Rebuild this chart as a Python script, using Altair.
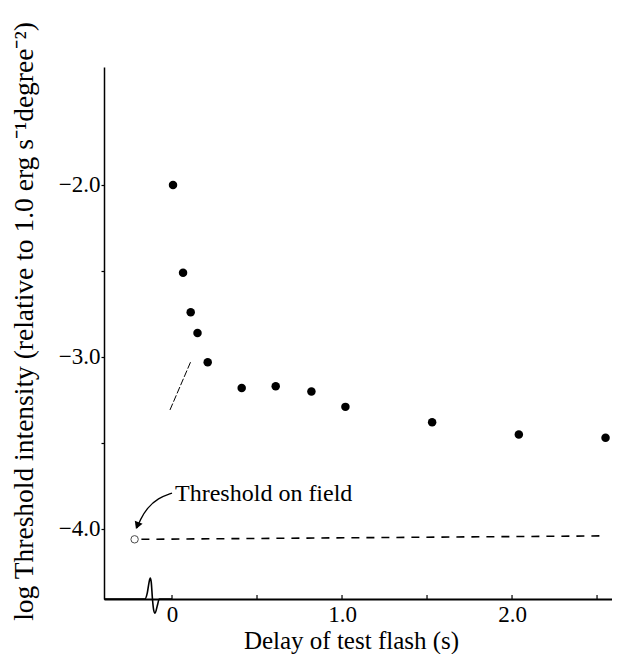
import altair as alt
import pandas as pd

# Measured thresholds (filled dots)
delay_s = [0.006, 0.065, 0.11, 0.15, 0.21, 0.41, 0.61, 0.82, 1.02, 1.53, 2.04, 2.55]
log_thresh = [-2.00, -2.51, -2.74, -2.86, -3.03, -3.18, -3.17, -3.20, -3.29, -3.38, -3.45, -3.47]

# Threshold on field (open circle + dashed line)
field_x = [-0.22]
field_y = [-4.06]
dash_x = [-0.18, 2.55]
dash_y = [-4.06, -4.04]

# Flash stimulus trace drawn along the time axis
flash_x = [-0.40, -0.16, -0.145, -0.135, -0.128, -0.122, -0.115, -0.108, -0.10, -0.085, -0.075, 0.0]
flash_y = [-4.407, -4.407, -4.37, -4.31, -4.285, -4.31, -4.407, -4.47, -4.49, -4.44, -4.407, -4.407]

# Annotation
label_text = ["Threshold on field"]
label_x = [0.018]
label_y = [-3.835]
arrow_x = [0.0, -0.082, -0.147, -0.188, -0.206]
arrow_y = [-3.791, -3.820, -3.878, -3.948, -3.994]
head_x = [-0.204]
head_y = [-3.98]

# Stray stroke visible in the scan
stray_x = [-0.012, 0.112]
stray_y = [-3.308, -3.023]

x_ticks = [0, 0.5, 1.0, 1.5, 2.0, 2.5]
y_ticks = [-2.0, -2.5, -3.0, -3.5, -4.0]

FONT = "Liberation Serif"

xscale = alt.Scale(domain=[-0.4, 2.588], nice=False, zero=False)
yscale = alt.Scale(domain=[-4.407, -1.314], nice=False, zero=False)

xaxis = alt.Axis(
    values=x_ticks,
    labelExpr="datum.value == 0 ? '0' : (datum.value % 1 == 0 ? format(datum.value, '.1f') : '')",
    ticks=False, grid=False, domainColor="black", domainWidth=1.8,
    labelFont=FONT, labelFontSize=23, labelColor="black", labelPadding=4,
    labelOverlap=False, labelFlush=False,
    title="Delay of test flash (s)", titleFont=FONT, titleFontSize=25,
    titleFontWeight="normal", titleColor="black", titleX=247, titleY=49,
    titleBaseline="alphabetic", titleAlign="center",
)
yaxis = alt.Axis(
    values=y_ticks,
    labelExpr="datum.value % 1 == 0 ? format(datum.value, '.1f') : ''",
    ticks=True, tickSize=3, tickColor="black", tickWidth=1.2, grid=False,
    domainColor="black", domainWidth=1.5,
    labelFont=FONT, labelFontSize=23, labelColor="black", labelPadding=1,
    labelOverlap=False, labelFlush=False,
    title="log Threshold intensity (relative to 1.0 erg s\u207b\u00b9degree\u207b\u00b2)",
    titleFont=FONT, titleFontSize=27.5, titleFontWeight="normal", titleColor="black",
    titleAngle=270, titleX=-80, titleY=254, titleBaseline="middle", titleAlign="center",
)

X = alt.X("x:Q", scale=xscale, axis=xaxis)
Y = alt.Y("y:Q", scale=yscale, axis=yaxis)

pts = pd.DataFrame({"x": delay_s, "y": log_thresh})
dots = alt.Chart(pts).mark_point(filled=True, color="black", size=72, opacity=1).encode(x=X, y=Y)

fld = pd.DataFrame({"x": field_x, "y": field_y})
open_pt = alt.Chart(fld).mark_point(filled=False, color="black", size=55, strokeWidth=1).encode(x=X, y=Y)

dsh = pd.DataFrame({"x": dash_x, "y": dash_y})
dashed = alt.Chart(dsh).mark_line(color="black", strokeWidth=1.6, strokeDash=[8, 7]).encode(x=X, y=Y)

fl = pd.DataFrame({"x": flash_x, "y": flash_y, "o": list(range(len(flash_x)))})
flash = alt.Chart(fl).mark_line(color="black", strokeWidth=1.6, interpolate="monotone").encode(
    x=X, y=Y, order="o:Q")

xt = pd.DataFrame({"x": x_ticks})
xticks = alt.Chart(xt).mark_rule(color="black", strokeWidth=1.2).encode(
    x=X, y=alt.value(532), y2=alt.value(528))

lab = pd.DataFrame({"x": label_x, "y": label_y, "t": label_text})
label = alt.Chart(lab).mark_text(font=FONT, fontSize=24, align="left", baseline="alphabetic", color="black").encode(
    x=X, y=Y, text="t:N")

arr = pd.DataFrame({"x": arrow_x, "y": arrow_y, "o": list(range(len(arrow_x)))})
arrow = alt.Chart(arr).mark_line(color="black", strokeWidth=1.3, interpolate="basis").encode(
    x=X, y=Y, order="o:Q")

hd = pd.DataFrame({"x": head_x, "y": head_y})
head = alt.Chart(hd).mark_point(shape="triangle-up", filled=True, color="black", size=70, angle=202, opacity=1).encode(
    x=X, y=Y)

st = pd.DataFrame({"x": stray_x, "y": stray_y, "o": [0, 1]})
stray = alt.Chart(st).mark_line(color="black", strokeWidth=1, strokeDash=[7, 2]).encode(x=X, y=Y, order="o:Q")

chart = alt.layer(dashed, flash, xticks, stray, arrow, head, label, open_pt, dots).properties(
    width=508, height=532,
    autosize=alt.AutoSizeParams(type="none"),
    padding={"left": 96, "top": 59, "right": 0, "bottom": 55},
    background="white",
).configure_view(stroke=None)

chart.save("out.html", embed_options={"renderer": "svg", "actions": False})
